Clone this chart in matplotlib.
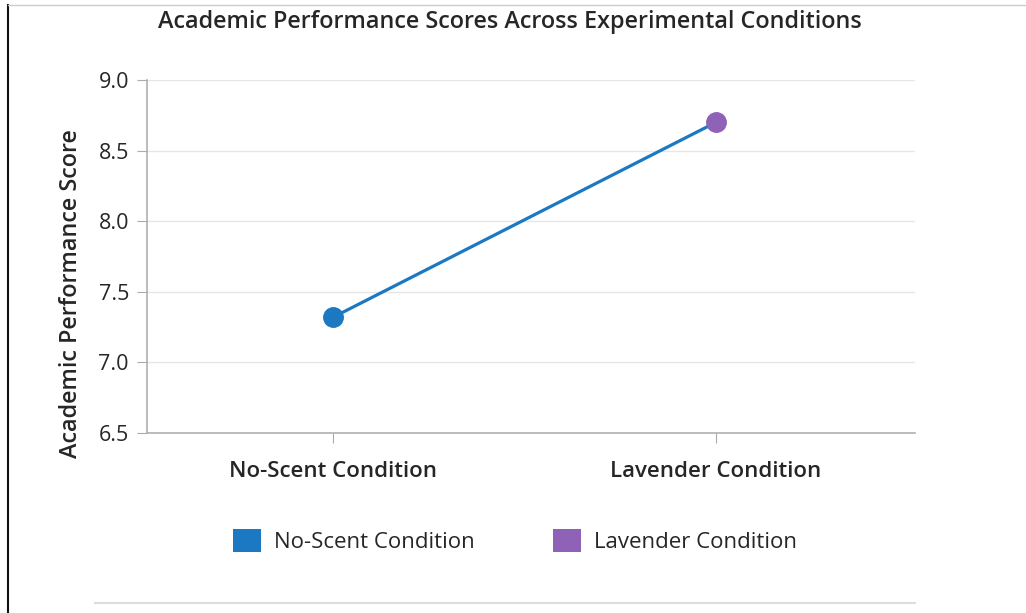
import matplotlib
matplotlib.use('Agg')
import matplotlib.pyplot as plt
from matplotlib.lines import Line2D
from matplotlib.patches import Patch

# data
conditions = ['No-Scent Condition', 'Lavender Condition']
scores = [7.32, 8.70]
point_colors = ['#1b78c2', '#8e62b6']
line_color = '#1b78c2'
y_ticks = [6.5, 7.0, 7.5, 8.0, 8.5, 9.0]

plt.rcParams['font.family'] = ['Open Sans', 'DejaVu Sans']
text_color = '#262626'

fig = plt.figure(figsize=(10.26, 6.13), dpi=100)
ax = fig.add_axes([0.1433, 0.2936, 0.7485, 0.5759])

x = list(range(len(conditions)))
ax.plot(x, scores, color=line_color, lw=2.3, zorder=3)
for xi, yi, c in zip(x, scores, point_colors):
    ax.plot(xi, yi, 'o', color=c, ms=14, zorder=4)

ax.set_xlim(-0.486, 1.52)
ax.set_ylim(6.5, 9.0)
ax.set_yticks(y_ticks)
ax.set_yticklabels([f'{t:.1f}' for t in y_ticks], fontsize=15.5, color=text_color)
ax.set_xticks(x)
ax.set_xticklabels(conditions, fontsize=16, fontweight='semibold', color=text_color)
ax.tick_params(axis='y', length=7, color='#aaaaaa', pad=6)
ax.tick_params(axis='x', length=7, color='#aaaaaa', pad=13)
ax.grid(axis='y', color='#e6e6e6', lw=1)
ax.set_axisbelow(True)
for s in ['top', 'right']:
    ax.spines[s].set_visible(False)
for s in ['left', 'bottom']:
    ax.spines[s].set_color('#b0b0b0')
    ax.spines[s].set_linewidth(1.2)

ax.set_ylabel('Academic Performance Score', fontsize=16.8, fontweight='semibold',
              color=text_color)
ax.yaxis.set_label_coords(-0.083, 0.394)
fig.suptitle('Academic Performance Scores Across Experimental Conditions',
             x=0.4966, y=0.984, fontsize=16.8, fontweight='semibold', color=text_color)

handles = [Patch(facecolor=c, edgecolor='none') for c in point_colors]
fig.legend(handles, conditions, loc='center', bbox_to_anchor=(0.502, 0.1175), ncol=2,
           frameon=False, prop={'size': 16, 'weight': 'medium'},
           handlelength=1.26, handleheight=1.22,
           columnspacing=3.5, handletextpad=0.59, labelcolor=text_color)

# page frame lines
fig.add_artist(Line2D([0.008, 0.008], [0, 0.992], color='#111111', lw=1.5))
fig.add_artist(Line2D([0.008, 1.0], [0.992, 0.992], color='#cccccc', lw=1))
fig.add_artist(Line2D([0.093, 0.892], [0.016, 0.016], color='#dddddd', lw=1.5))

fig.savefig('out.png', dpi=100)
